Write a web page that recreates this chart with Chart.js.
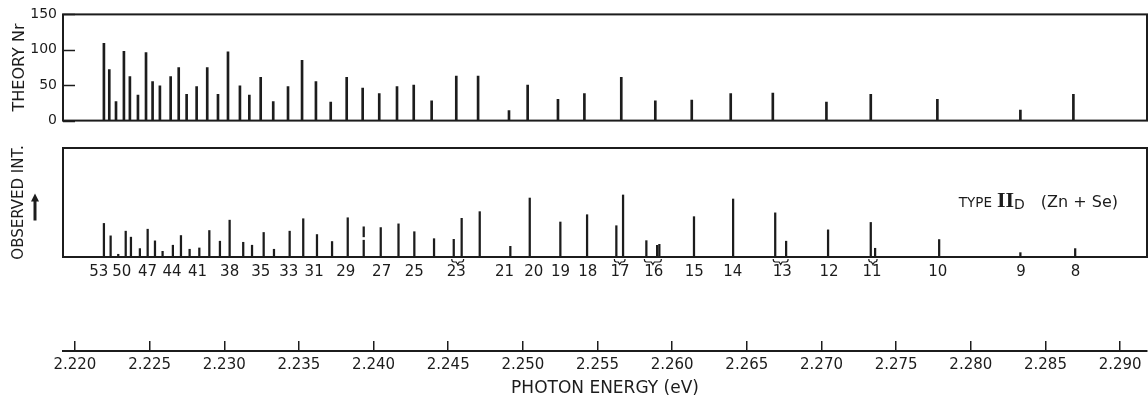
<!DOCTYPE html>
<html>
<head>
<meta charset="utf-8">
<script src="https://cdn.jsdelivr.net/npm/chart.js@4"></script>
<style>
  body { margin: 0; background: #fff; }
  #wrap { position: relative; width: 1148px; height: 398px; }
  canvas { position: absolute; left: 0; }
</style>
</head>
<body>
<div id="wrap">
  <canvas id="theory" width="1148" height="135" style="top:0"></canvas>
  <canvas id="observed" width="1148" height="165" style="top:135px"></canvas>
  <canvas id="energy" width="1148" height="98" style="top:300px"></canvas>
</div>
<script>
// theory lines, shells 53 ... 8
const theoryEnergy = [2.22194, 2.22230, 2.22275, 2.22328, 2.22368, 2.22422, 2.22476, 2.22520, 2.22569, 2.22641,
    2.22695, 2.22748, 2.22815, 2.22886, 2.22958, 2.23025, 2.23105, 2.23168, 2.23244, 2.23328,
    2.23427, 2.23521, 2.23614, 2.23713, 2.23820, 2.23927, 2.24038, 2.24157, 2.24269, 2.24389,
    2.24554, 2.24700, 2.24907, 2.25032, 2.25235, 2.25412, 2.25659, 2.25887, 2.26131, 2.26392,
    2.26674, 2.27033, 2.27330, 2.27776, 2.28332, 2.28687];
const theoryNr = [109, 72, 27, 98, 62, 36, 96, 55, 49, 62,
    75, 37, 48, 75, 37, 97, 49, 36, 61, 27,
    48, 85, 55, 26, 61, 46, 38, 48, 50, 28,
    63, 63, 14, 50, 30, 38, 61, 28, 29, 38,
    39, 26, 37, 30, 15, 37];

// observed lines (arbitrary units, 0-100 = panel height)
const observedEnergy = [2.22194, 2.22239, 2.22290, 2.22340, 2.22375, 2.22435, 2.22487, 2.22536, 2.22587, 2.22656,
    2.22710, 2.22768, 2.22833, 2.22900, 2.22971, 2.23036, 2.23127, 2.23186, 2.23264, 2.23333,
    2.23438, 2.23529, 2.23621, 2.23722, 2.23827, 2.23934, 2.24048, 2.24167, 2.24273, 2.24405,
    2.24537, 2.24590, 2.24711, 2.24916, 2.25046, 2.25251, 2.25430, 2.25626, 2.25671, 2.25827,
    2.25899, 2.25914, 2.26146, 2.26408, 2.26690, 2.26763, 2.27044, 2.27330, 2.27359, 2.27788,
    2.28332, 2.28699];
const observedInt = [30.8, 19.4, 2.5, 23.7, 18.2, 7.7, 25.5, 14.8, 5.2, 10.8,
    19.7, 7.1, 8.3, 24.3, 14.5, 33.8, 13.5, 10.8, 22.5, 7.1,
    23.7, 35.1, 20.6, 14.2, 36.0, 15.4, 27.0, 30.4, 23.2, 16.8,
    16.2, 35.5, 41.6, 9.8, 54.1, 32.1, 38.8, 28.7, 56.9, 15.0,
    10.7, 11.6, 37.0, 53.2, 40.5, 14.5, 24.9, 31.7, 8.0, 16.0,
    4.0, 7.7];
// upper piece of the broken line at shell 28
const brokenEnergy = [2.23934];
const brokenInt = [[18.5, 27.7]];
// pairs / triples joined by a brace under the axis (indexes into observed)
const braceGroups = [[30, 31], [37, 38], [39, 41], [44, 45], [47, 48]];

// shell number labels between the panels
const shellLabels = [53, 50, 47, 44, 41, 38, 35, 33, 31, 29, 27, 25, 23, 21, 20, 19, 18, 17, 16, 15, 14, 13, 12, 11, 10, 9, 8];
const shellLabelEnergy = [2.22159, 2.22313, 2.22486, 2.22650, 2.22821, 2.23036, 2.23245, 2.23432, 2.23602, 2.23814,
    2.24054, 2.24272, 2.24554, 2.24877, 2.25073, 2.25252, 2.25435, 2.25651, 2.25877, 2.26148,
    2.26406, 2.26737, 2.27051, 2.27339, 2.27779, 2.28336, 2.28702];

const energyMin = 2.2192;
const energyMax = 2.2918;
const energyStep = 0.005;

const ink = '#1c1c1c';
Chart.defaults.font.family = "'DejaVu Sans', sans-serif";
Chart.defaults.color = ink;
Chart.defaults.animation = false;
Chart.defaults.plugins.legend.display = false;
Chart.defaults.plugins.tooltip.enabled = false;

function fixAxisWidth(scale) {
    scale.width = 63;
}

function toPoints(xs, ys) {
    return xs.map((x, i) => ({ x: x, y: ys[i] }));
}

const frame = {
    id: 'frame',
    afterDatasetsDraw(chart) {
        const a = chart.chartArea;
        const ctx = chart.ctx;
        ctx.save();
        ctx.strokeStyle = ink;
        ctx.lineWidth = 2;
        ctx.strokeRect(a.left, a.top, a.right - a.left, a.bottom - a.top);
        ctx.restore();
    }
};

const inwardTicks = {
    id: 'inwardTicks',
    afterDraw(chart) {
        const y = chart.scales.y;
        const left = chart.chartArea.left;
        const ctx = chart.ctx;
        ctx.save();
        ctx.strokeStyle = ink;
        ctx.lineWidth = 1.5;
        y.ticks.forEach(t => {
            const py = Math.round(y.getPixelForValue(t.value)) + 0.5;
            ctx.beginPath();
            ctx.moveTo(left, py);
            ctx.lineTo(left + 12, py);
            ctx.stroke();
        });
        ctx.restore();
    }
};

const observedExtras = {
    id: 'observedExtras',
    afterDraw(chart) {
        const a = chart.chartArea;
        const x = chart.scales.x;
        const ctx = chart.ctx;
        ctx.save();
        ctx.strokeStyle = ink;
        ctx.fillStyle = ink;

        // braces under grouped lines
        ctx.lineWidth = 1.2;
        braceGroups.forEach(g => {
            const x1 = x.getPixelForValue(observedEnergy[g[0]]) - 2;
            const x2 = x.getPixelForValue(observedEnergy[g[g.length - 1]]) + 2;
            const mid = (x1 + x2) / 2;
            const y0 = a.bottom + 2;
            ctx.beginPath();
            ctx.moveTo(x1, y0);
            ctx.quadraticCurveTo(x1, y0 + 3, x1 + 2, y0 + 3);
            ctx.lineTo(mid - 1.5, y0 + 3);
            ctx.lineTo(mid, y0 + 5.5);
            ctx.lineTo(mid + 1.5, y0 + 3);
            ctx.lineTo(x2 - 2, y0 + 3);
            ctx.quadraticCurveTo(x2, y0 + 3, x2, y0);
            ctx.stroke();
        });

        // arrow next to the axis title
        const ax = a.left - 28;
        const mid = (a.top + a.bottom) / 2;
        ctx.lineWidth = 3;
        ctx.beginPath();
        ctx.moveTo(ax, mid + 18);
        ctx.lineTo(ax, mid - 3);
        ctx.stroke();
        ctx.beginPath();
        ctx.moveTo(ax, mid - 9);
        ctx.lineTo(ax - 4, mid - 1);
        ctx.lineTo(ax + 4, mid - 1);
        ctx.closePath();
        ctx.fill();

        // TYPE II_D (Zn + Se)
        const base = a.top + 58.5;
        const right = a.right - 29;
        ctx.textBaseline = 'alphabetic';
        ctx.textAlign = 'left';
        const parts = [
            { t: 'TYPE', f: "13.5px 'DejaVu Sans'", dy: 0, gap: 5 },
            { t: 'II', f: "bold 22px 'Liberation Serif'", dy: 0, gap: 0 },
            { t: 'D', f: "14px 'DejaVu Sans'", dy: 2, gap: 16 },
            { t: '(Zn + Se)', f: "16px 'DejaVu Sans'", dy: 0, gap: 0 }
        ];
        const widths = parts.map(p => { ctx.font = p.f; return ctx.measureText(p.t).width; });
        const total = widths.reduce((s, w, i) => s + w + parts[i].gap, 0);
        let cx = right - total;
        parts.forEach((p, i) => {
            ctx.font = p.f;
            ctx.fillText(p.t, cx, base + p.dy);
            cx += widths[i] + p.gap;
        });
        ctx.restore();
    }
};

// theory panel
new Chart(document.getElementById('theory'), {
    type: 'bar',
    data: {
        datasets: [{
            data: toPoints(theoryEnergy, theoryNr),
            backgroundColor: ink,
            barThickness: 2
        }]
    },
    options: {
        responsive: false,
        layout: { padding: { top: 13, bottom: 10, left: 0, right: 1 } },
        scales: {
            x: {
                type: 'linear', min: energyMin, max: energyMax,
                offset: false, display: false
            },
            y: {
                min: 0, max: 150,
                afterFit: fixAxisWidth,
                ticks: { stepSize: 50, padding: 6, font: { size: 14 } },
                grid: { display: false, drawTicks: false },
                border: { display: false },
                title: {
                    display: true, text: 'THEORY Nr',
                    font: { size: 16 }, padding: { top: 10, bottom: 0 }
                }
            }
        }
    },
    plugins: [frame, inwardTicks]
});

// observed panel
new Chart(document.getElementById('observed'), {
    type: 'bar',
    data: {
        datasets: [{
            data: toPoints(observedEnergy, observedInt),
            backgroundColor: ink,
            barThickness: 1.6,
            grouped: false
        }, {
            data: toPoints(brokenEnergy, brokenInt),
            backgroundColor: ink,
            barThickness: 1.6,
            grouped: false
        }]
    },
    options: {
        responsive: false,
        layout: { padding: { top: 13, bottom: 0, left: 0, right: 1 } },
        scales: {
            x: {
                type: 'linear', min: energyMin, max: energyMax,
                offset: false,
                afterFit: s => { s.height = 43; },
                afterBuildTicks: s => { s.ticks = shellLabelEnergy.map(v => ({ value: v })); },
                ticks: {
                    autoSkip: false, maxRotation: 0, padding: 6,
                    font: { size: 15 },
                    callback: (v, i) => shellLabels[i]
                },
                grid: { display: false, drawTicks: false },
                border: { display: false }
            },
            y: {
                min: 0, max: 100,
                afterFit: fixAxisWidth,
                ticks: { display: false },
                grid: { display: false, drawTicks: false },
                border: { display: false },
                title: {
                    display: true, text: 'OBSERVED INT.',
                    font: { size: 15 }, padding: { top: 10, bottom: 0 }
                }
            }
        }
    },
    plugins: [frame, observedExtras]
});

// photon energy axis
new Chart(document.getElementById('energy'), {
    type: 'scatter',
    data: { datasets: [] },
    options: {
        responsive: false,
        layout: { padding: { top: 41, bottom: 0, left: 63, right: 1 } },
        scales: {
            x: {
                type: 'linear', min: energyMin, max: energyMax,
                afterFit: s => { s.height = 47; },
                ticks: {
                    stepSize: energyStep, includeBounds: false, padding: 5,
                    font: { size: 15 },
                    callback: v => v.toFixed(3)
                },
                grid: { color: ink, lineWidth: 1.5, drawTicks: false },
                border: { display: true, color: ink, width: 2 },
                title: {
                    display: true, text: 'PHOTON ENERGY (eV)',
                    font: { size: 17 }, padding: { top: 0, bottom: -1 }
                }
            },
            y: { display: false, min: 0, max: 1 }
        }
    }
});
</script>
</body>
</html>
